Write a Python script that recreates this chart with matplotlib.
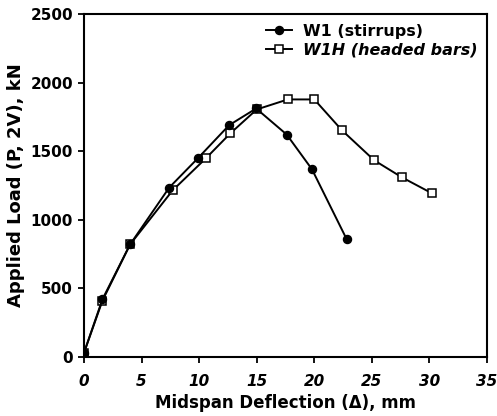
import matplotlib
matplotlib.use("Agg")
import matplotlib.pyplot as plt

# Load-deflection response of the two test walls
w1_defl = [0.0, 1.6, 4.0, 7.4, 9.9, 12.6, 14.95, 17.6, 19.8, 22.8]
w1_load = [30, 420, 820, 1235, 1450, 1690, 1812, 1622, 1368, 860]

w1h_defl = [0.0, 1.6, 4.0, 7.7, 10.6, 12.7, 15.0, 17.7, 20.0, 22.4, 25.2, 27.6, 30.2]
w1h_load = [30, 410, 820, 1215, 1450, 1630, 1805, 1878, 1878, 1653, 1434, 1310, 1194]

x_ticks = [0, 5, 10, 15, 20, 25, 30, 35]
y_ticks = [0, 500, 1000, 1500, 2000, 2500]

plt.rcParams['font.family'] = ['DejaVu Sans']

fig = plt.figure(figsize=(4.97, 4.16), dpi=100)
ax = fig.add_axes([0.169, 0.142, 0.811, 0.824])

ax.plot(w1_defl, w1_load, '-o', color='black', lw=1.4, ms=5.8,
        mfc='black', mec='black', label='W1 (stirrups)', zorder=3)
ax.plot(w1h_defl, w1h_load, '-s', color='black', lw=1.4, ms=5.8,
        mfc='white', mec='black', mew=1.1, label='W1H (headed bars)', zorder=2)

ax.set_xlim(0, 35)
ax.set_ylim(0, 2500)
ax.set_xticks(x_ticks)
ax.set_yticks(y_ticks)
ax.set_xticklabels([str(v) for v in x_ticks], fontweight='heavy',
                   fontstyle='italic', fontsize=11)
ax.set_yticklabels([str(v) for v in y_ticks], fontweight='heavy', fontsize=11)
ax.tick_params(axis='x', direction='out', length=4, width=1.3, pad=8)
ax.tick_params(axis='y', direction='out', length=4, width=1.3, pad=4)

for s in ax.spines.values():
    s.set_linewidth(1.5)

ax.set_xlabel('Midspan Deflection (\u0394), mm', fontweight='heavy',
              fontsize=12, labelpad=4)
ax.set_ylabel('Applied Load (P, 2V), kN', fontweight='heavy',
              fontsize=13, labelpad=4)

leg = ax.legend(loc='upper right', frameon=False, handlelength=1.6,
                handletextpad=0.7, borderaxespad=0.2, labelspacing=0.25,
                prop={'weight': 'heavy', 'size': 11.5})
leg.get_texts()[1].set_fontstyle('italic')

fig.savefig('out.png', dpi=100)
